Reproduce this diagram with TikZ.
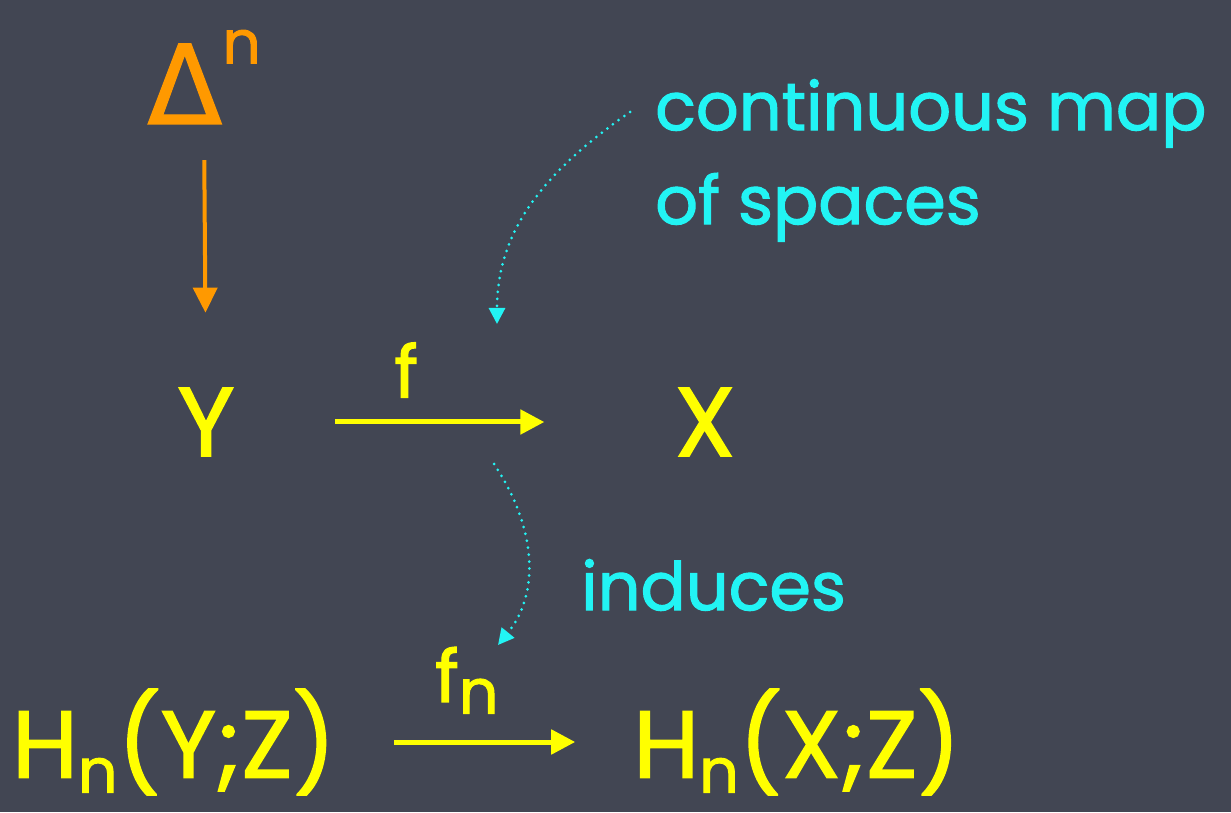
\documentclass[tikz,border=0pt]{standalone}
\usepackage{fontspec}
\setmainfont{Poppins}[FakeBold=1.6]
\newfontfamily\greekfont{DejaVu Sans}[FakeBold=1]
\usetikzlibrary{arrows.meta}
\definecolor{BoardSlate}{HTML}{424653}
\definecolor{BoardYellow}{HTML}{FFFF00}
\definecolor{BoardOrange}{HTML}{FF9900}
\definecolor{BoardCyan}{HTML}{22F4F4}
\tikzset{
  board big/.style={font=\fontsize{98}{98}\selectfont, text=BoardYellow, inner sep=0pt},
  board hom/.style={font=\fontsize{95}{95}\selectfont, text=BoardYellow, inner sep=0pt},
  board label/.style={font=\fontsize{72}{72}\selectfont, text=BoardYellow, inner sep=0pt},
  board note/.style={font=\fontsize{67}{94}\selectfont, text=BoardCyan, inner sep=0pt},
  board simplex/.style={font=\fontsize{110}{110}\selectfont, text=BoardOrange, inner sep=0pt},
  board map/.style={draw=BoardYellow, line width=5pt, -{Triangle[length=24pt,width=24pt]}},
  board face/.style={draw=BoardOrange, line width=4pt, -{Triangle[length=25pt,width=24pt]}},
  board hint/.style={draw=BoardCyan, line width=3pt, line cap=round,
    dash pattern=on 0pt off 7pt, -{Triangle[length=16pt,width=16pt]}},
}
\newcommand{\SubN}{\raisebox{-.16em}{\fontsize{62}{62}\selectfont n}}

\begin{document}
\begin{tikzpicture}[x=1pt,y=1pt]
  \fill[BoardSlate] (0,0) rectangle (1231,812);
  \useasboundingbox (0,0) rectangle (1231,812);

  % top row
  \node[board simplex] (simplex) at (204,735)
    {{\greekfont Δ}\raisebox{.55em}{\fontsize{60}{60}\selectfont n}};
  \node[board big] (spaceY) at (206,390) {Y};
  \node[board big] (spaceX) at (705,390) {X};
  \draw[board face, shorten <=36pt, shorten >=75pt] (simplex.south) -- (spaceY.north);
  \draw[board map, shorten <=100pt, shorten >=130pt] (spaceY.east) -- (spaceX.west)
    node[board label, pos=.39, above=22pt] (mapname) {f};

  % bottom row
  \node[board hom] (homY) at (174,70) {H\SubN(Y;Z)};
  \node[board hom] (homX) at (797,70) {H\SubN(X;Z)};
  \draw[board map, shorten <=58pt, shorten >=58pt] (homY.east) -- (homX.west)
    node[board label, pos=.44, above=26pt] (homname) {f\SubN};

  % notes
  \node[board note, anchor=north west, align=left] (mapnote) at (655,733)
    {continuous map\\of spaces};
  \node[board note, anchor=west] (inducenote) at (581,227) {induces};
  \coordinate (maptail) at (630,700);
  \coordinate (maphead) at (497,488);
  \coordinate (inducetail) at (494,348);
  \coordinate (inducehead) at (498,167);
  \draw[board hint] (maptail) to[out=215,in=90] (maphead);
  \draw[board hint] (inducetail) to[out=-56,in=51] (inducehead);
\end{tikzpicture}
\end{document}
